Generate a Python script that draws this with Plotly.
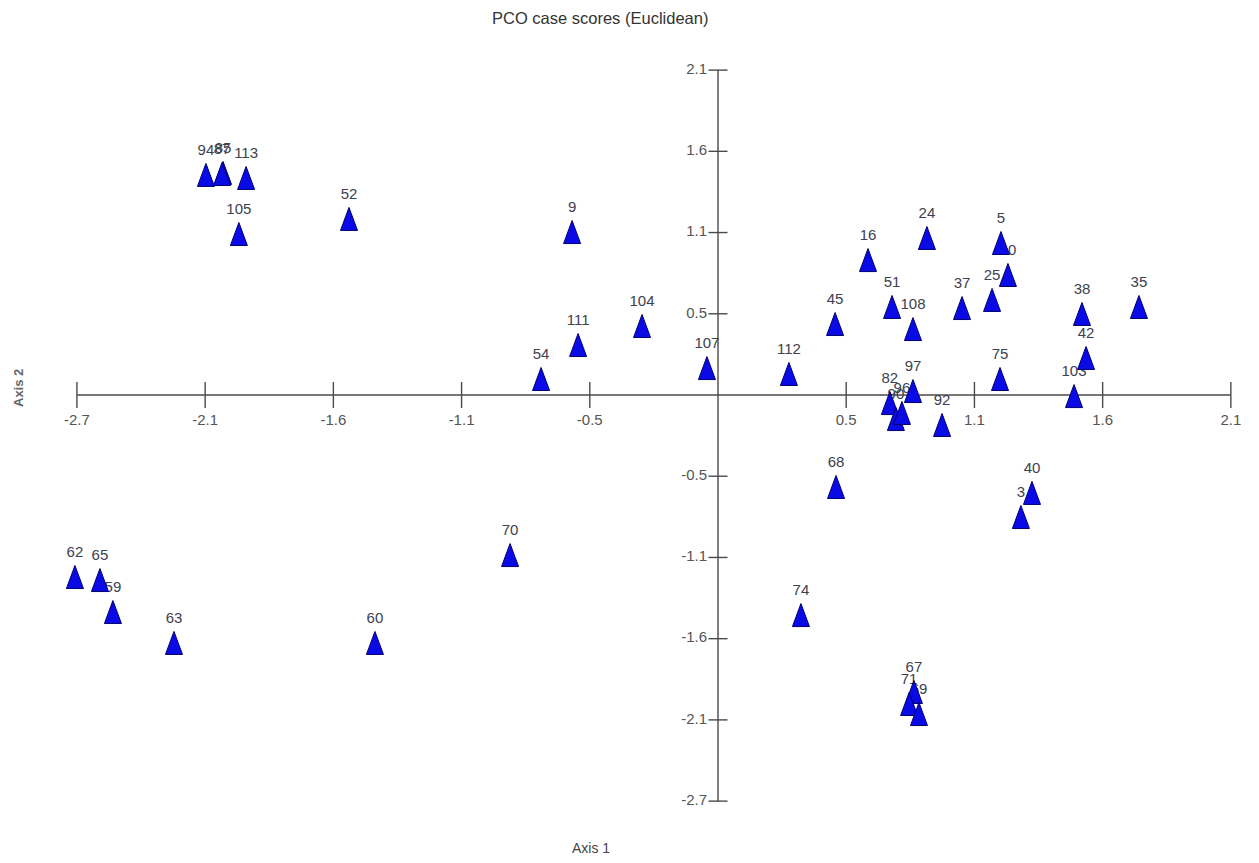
import plotly.graph_objects as go

# ---- data ----
labels = ["94", "85", "87", "113", "105", "52", "9", "111", "104", "54",
          "107", "112", "16", "24", "51", "108", "45", "37", "5", "10",
          "25", "38", "35", "42", "75", "103", "97", "82", "90", "96",
          "92", "68", "40", "3", "70", "74", "67", "71", "69", "62",
          "65", "59", "63", "60"]
axis1 = [-2.130, -2.059, -2.063, -1.963, -1.993, -1.535, -0.607, -0.582, -0.316, -0.736,
         -0.046, 0.295, 0.624, 0.869, 0.724, 0.811, 0.487, 1.015, 1.177, 1.206,
         1.140, 1.514, 1.751, 1.531, 1.173, 1.481, 0.811, 0.715, 0.740, 0.765,
         0.932, 0.491, 1.306, 1.260, -0.865, 0.345, 0.815, 0.795, 0.836, -2.675,
         -2.571, -2.517, -2.263, -1.427]
axis2 = [1.445, 1.458, 1.451, 1.425, 1.057, 1.156, 1.070, 0.328, 0.453, 0.105,
         0.177, 0.138, 0.886, 1.031, 0.578, 0.433, 0.466, 0.571, 0.998, 0.788,
         0.624, 0.532, 0.578, 0.243, 0.105, -0.007, 0.026, -0.053, -0.158, -0.118,
         -0.197, -0.604, -0.643, -0.801, -1.051, -1.445, -1.950, -2.029, -2.095, -1.195,
         -1.215, -1.425, -1.628, -1.628]

tick_values = [-2.6667, -2.1333, -1.6, -1.0667, -0.5333, 0.5333, 1.0667, 1.6, 2.1333]
x_tick_text = ["-2.7", "-2.1", "-1.6", "-1.1", "-0.5", "0.5", "1.1", "1.6", "2.1"]
y_tick_text = ["-2.7", "-2.1", "-1.6", "-1.1", "-0.5", "0.5", "1.1", "1.6", "2.1"]
axis_min, axis_max = -2.6667, 2.1333

# ---- geometry / style ----
W, H = 1243, 847
x_range = [-2.9534, 2.2171]
y_range = [-3.0204, 2.5411]
px_x = W / (x_range[1] - x_range[0])   # pixels per data unit (x)
px_y = H / (y_range[1] - y_range[0])   # pixels per data unit (y)

tri_hw = 8.5 / px_x
tri_hh = 11.5 / px_y
label_off = 23.5 / px_y

AXIS_COLOR = "#4a4a4a"
NARROW = "Liberation Sans Narrow, Arial Narrow, Liberation Sans, Arial, sans-serif"
REG = "Liberation Sans, Arial, sans-serif"

fig = go.Figure()

# axes lines + ticks
ax_x, ax_y = [], []
ax_x += [axis_min, axis_max, None]; ax_y += [0, 0, None]
ax_x += [0, 0, None]; ax_y += [axis_min, axis_max, None]
xt = 13 / px_y
yt = 9.5 / px_x
for t in tick_values:
    ax_x += [t, t, None]; ax_y += [-xt, xt, None]
    ax_x += [-yt, yt, None]; ax_y += [t, t, None]
fig.add_trace(go.Scatter(x=ax_x, y=ax_y, mode="lines",
                         line=dict(color=AXIS_COLOR, width=1.4),
                         hoverinfo="skip"))

# tick labels
fig.add_trace(go.Scatter(x=tick_values, y=[-26 / px_y] * len(tick_values),
                         mode="text", text=x_tick_text, textposition="middle center",
                         textfont=dict(family=NARROW, size=15, color="#555555"),
                         hoverinfo="skip"))
fig.add_trace(go.Scatter(x=[-11 / px_x] * len(tick_values), y=tick_values,
                         mode="text", text=y_tick_text, textposition="middle left",
                         textfont=dict(family=NARROW, size=15, color="#555555"),
                         hoverinfo="skip"))

# point labels (drawn below triangles)
fig.add_trace(go.Scatter(x=axis1, y=[v + label_off for v in axis2],
                         mode="text", text=labels, textposition="middle center",
                         textfont=dict(family=NARROW, size=15, color="#3d4150"),
                         hoverinfo="skip"))

# triangles
for lx, ly, lab in zip(axis1, axis2, labels):
    fig.add_trace(go.Scatter(
        x=[lx - tri_hw, lx + tri_hw, lx, lx - tri_hw],
        y=[ly - tri_hh, ly - tri_hh, ly + tri_hh, ly - tri_hh],
        mode="lines", fill="toself", fillcolor="#0a0ae6",
        line=dict(color="#00006e", width=1), name=lab, hoverinfo="name"))

fig.update_layout(
    width=W, height=H,
    margin=dict(l=0, r=0, t=0, b=0, pad=0),
    paper_bgcolor="white", plot_bgcolor="white",
    showlegend=False,
    xaxis=dict(visible=False, range=x_range, fixedrange=True),
    yaxis=dict(visible=False, range=y_range, fixedrange=True),
    annotations=[
        dict(text="PCO case scores (Euclidean)", xref="paper", yref="paper",
             x=592 / W, y=1 - 10 / H, xanchor="center", yanchor="middle",
             showarrow=False, font=dict(family=REG, size=16.5, color="#333333")),
        dict(text="Axis 1", xref="paper", yref="paper",
             x=583 / W, y=1 - 840 / H, xanchor="center", yanchor="middle",
             showarrow=False, font=dict(family=NARROW, size=14, color="#444444")),
        dict(text="<b>Axis 2</b>", xref="paper", yref="paper",
             x=10 / W, y=1 - 380 / H, xanchor="center", yanchor="middle",
             textangle=-90, showarrow=False,
             font=dict(family=REG, size=13, color="#666666")),
    ],
)

fig.write_html("out.html")
